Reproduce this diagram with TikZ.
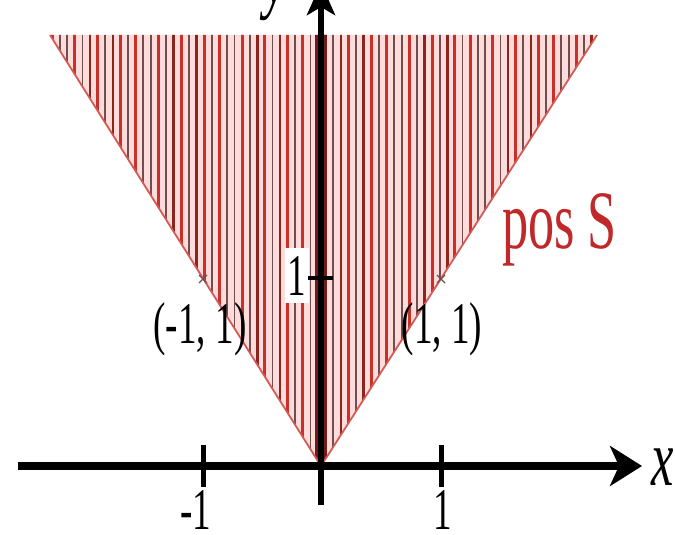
\documentclass[tikz,border=0pt]{standalone}
\usepackage{fontspec}
\setmainfont{Liberation Serif}
\usetikzlibrary{arrows.meta}
\definecolor{hatchbg}{HTML}{FFDCDC}
\definecolor{hgray}{HTML}{6E4E4E}
\definecolor{hdark}{HTML}{8C2420}
\definecolor{hred}{HTML}{C8302A}
\definecolor{labred}{HTML}{C0282A}
\newcommand\sqz[1]{\scalebox{0.63}[1]{#1}}
\begin{document}
\begin{tikzpicture}[x=1pt,y=-1pt,
  axisline/.style={line width=8pt, black},
  tickline/.style={line width=5pt, black},
  lab/.style={inner sep=0pt, font=\fontsize{59}{60}\selectfont},
  biglab/.style={inner sep=0pt, font=\fontsize{80}{82}\selectfont},
  pmark/.style={line width=1.4pt, hgray}]
\useasboundingbox (0,0) rectangle (675,535);
\clip (0,0) rectangle (675,535);
\fill[white] (0,0) rectangle (675,535);
% cone
\coordinate (O) at (321,466);
\coordinate (TL) at (50,35);
\coordinate (TR) at (597,35);
\fill[hatchbg] (O) -- (TL) -- (TR) -- cycle;
\begin{scope}
  \clip (O) -- (TL) -- (TR) -- cycle;
  \foreach \i in {0,...,72} {
    \pgfmathtruncatemacro{\k}{mod(\i*7+3,11)}
    \pgfmathsetmacro{\xx}{52+\i*7.6}
    \ifnum\k<4 \def\hc{hred}\def\hw{3.0}\else\ifnum\k<6 \def\hc{hdark}\def\hw{2.6}\else\def\hc{hgray}\def\hw{1.8}\fi\fi
    \draw[\hc, line width=\hw pt] (\xx,30) -- (\xx,470);
  }
  \fill[hdark!80!black] (315,30) rectangle (327,470);
\end{scope}
\draw[hred!80, line width=1.8pt] (TL) -- (O) -- (TR);
% points (-1,1), (1,1)
\coordinate (P1) at (203,279);
\coordinate (P2) at (441,279);
\foreach \p in {P1,P2} {
  \draw[pmark] ([shift={(-4,-4)}]\p) -- ([shift={(4,4)}]\p);
  \draw[pmark] ([shift={(-4,4)}]\p) -- ([shift={(4,-4)}]\p);
}
% y tick label with white box
\node[lab, anchor=base, fill=white, inner xsep=3pt, inner ysep=8pt] (yone) at (297,295) {\sqz{1}};
% axes
\coordinate (xs) at (18,466);
\coordinate (xe) at (642,466);
\coordinate (ys) at (321,505);
\coordinate (ye) at (321,-17);
\draw[axisline, -{Stealth[length=32pt,width=40pt,inset=9pt]}] (xs) -- (xe);
\draw[line width=6pt, black, -{Stealth[length=32pt,width=28pt,inset=8pt]}] (ys) -- (ye);
% ticks
\coordinate (tma) at (203,445); \coordinate (tmb) at (203,487);
\coordinate (tpa) at (441,445); \coordinate (tpb) at (441,487);
\coordinate (tya) at (308,278); \coordinate (tyb) at (333,278);
\draw[tickline] (tma) -- (tmb);
\draw[tickline] (tpa) -- (tpb);
\draw[line width=4pt, black] (tya) -- (tyb);
% labels
\node[lab, anchor=base] (lpm) at (200,343) {\sqz{(-1, 1)}};
\node[lab, anchor=base] (lpp) at (442,343) {\sqz{(1, 1)}};
\node[lab, anchor=base] (lxm) at (196,529) {\sqz{-1}};
\node[lab, anchor=base] (lxp) at (443,529) {\sqz{1}};
\node[inner sep=0pt, anchor=base west, text=labred, font=\fontsize{83}{85}\selectfont] (pos) at (502,248) {\sqz{pos S}};
\node[biglab, anchor=base west] (xlab) at (651,485) {\sqz{\textit{x}}};
\node[biglab, anchor=base] (ylab) at (276,4) {\sqz{\textit{y}}};
\end{tikzpicture}
\end{document}
